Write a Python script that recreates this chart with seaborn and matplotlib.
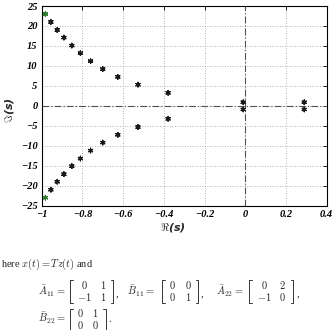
import numpy as np
import pandas as pd
import seaborn as sns
import matplotlib.pyplot as plt
from matplotlib.lines import Line2D

# Pole locations (upper half; the lower half mirrors it)
re_part = [-0.982, -0.955, -0.924, -0.891, -0.852, -0.81, -0.76, -0.70,
           -0.626, -0.527, -0.379, -0.01, 0.29]
im_part = [23.0, 21.0, 19.0, 17.1, 15.1, 13.2, 11.2, 9.2,
           7.25, 5.3, 3.25, 0.9, 0.9]
pole_group = ['first'] + ['rest'] * 12

x_ticks = [-1, -0.8, -0.6, -0.4, -0.2, 0, 0.2, 0.4]
x_ticklabels = ['\u22121', '\u22120.8', '\u22120.6', '\u22120.4', '\u22120.2', '0', '0.2', '0.4']
y_ticks = [-25, -20, -15, -10, -5, 0, 5, 10, 15, 20, 25]
y_ticklabels = [('\u2212' + str(-v)) if v < 0 else str(v) for v in y_ticks]

sns.set_theme(style='white')
plt.rcParams['mathtext.fontset'] = 'cm'
plt.rcParams['font.family'] = ['Liberation Serif', 'DejaVu Serif']

df = pd.DataFrame({
    're': re_part + re_part,
    'im': im_part + [-v for v in im_part],
    'group': pole_group + pole_group,
})

fig = plt.figure(figsize=(3.34, 3.30), dpi=100)
ax = fig.add_axes([0.1249, 0.3767, 0.853, 0.6051])

ax.axhline(0, color='#505050', lw=0.8, ls=(0, (6, 2, 1, 2)), zorder=1)
ax.axvline(0, color='#505050', lw=0.8, ls=(0, (6, 2, 1, 2)), zorder=1)

sns.scatterplot(data=df, x='re', y='im', hue='group',
                palette={'first': '#2f7a2f', 'rest': '#1a1a1a'},
                marker=(6, 2, 0), s=11, linewidth=0.9, legend=False,
                ax=ax, zorder=3)

ax.set_xlim(-1, 0.4)
ax.set_ylim(-25, 25)
ax.set_xticks(x_ticks)
ax.set_xticklabels(x_ticklabels)
ax.set_yticks(y_ticks)
ax.set_yticklabels(y_ticklabels)
for lab in ax.get_xticklabels() + ax.get_yticklabels():
    lab.set_fontstyle('italic')
    lab.set_fontweight('bold')
    lab.set_fontsize(7.5)
ax.tick_params(direction='in', length=3, width=0.6, top=True, right=True,
               pad=3, colors='black')
ax.grid(True, ls=(0, (1, 2)), color='#9a9a9a', lw=0.6)
for sp in ax.spines.values():
    sp.set_color('black')
    sp.set_linewidth(0.8)

ax.set_xlabel(r'$\Re$(s)', fontsize=8, fontweight='bold', style='italic',
              family='DejaVu Sans')
ax.set_ylabel(r'$\Im$(s)', fontsize=8, fontweight='bold', style='italic',
              family='DejaVu Sans')
ax.xaxis.set_label_coords(0.46, -0.075)
ax.yaxis.set_label_coords(-0.09, 0.48)

# text under the chart
W, H = 334.0, 330.0
fs = 7.5


def ftext(x, y, s, **kw):
    fig.text(x / W, 1 - y / H, s, fontsize=fs, va='center', **kw)


def bracket(x, y0, y1, side):
    d = 2.5 if side == 'left' else -2.5
    xs = [x + d, x, x, x + d]
    ys = [y0, y0, y1, y1]
    fig.add_artist(Line2D([v / W for v in xs], [1 - v / H for v in ys],
                          transform=fig.transFigure, color='#333333', lw=0.7))


def matrix(x0, x1, cols, rows, y_rows, y_top, y_bot):
    bracket(x0, y_top, y_bot, 'left')
    bracket(x1, y_top, y_bot, 'right')
    for r, yr in zip(rows, y_rows):
        for c, xc in zip(r, cols):
            ftext(xc, yr, c, ha='center')


ftext(1, 264, r'here $x(t) = Tz(t)$ and', ha='left')

ftext(66, 291, r'$\bar{A}_{11} =$', ha='right')
matrix(70, 113, [84, 103], [[r'$0$', r'$1$'], [r'$-1$', r'$1$']],
       [285, 297], 280, 303)
ftext(116, 294, ',', ha='left')

ftext(155, 291, r'$\bar{B}_{11} =$', ha='right')
matrix(162, 198, [172, 188], [[r'$0$', r'$0$'], [r'$0$', r'$1$']],
       [285, 297], 280, 303)
ftext(201, 294, ',', ha='left')

ftext(244, 291, r'$\bar{A}_{22} =$', ha='right')
matrix(249, 293, [264, 282], [[r'$0$', r'$2$'], [r'$-1$', r'$0$']],
       [285, 297], 280, 303)
ftext(297, 294, ',', ha='left')

ftext(66, 318, r'$\bar{B}_{22} =$', ha='right')
matrix(70, 106, [80, 95], [[r'$0$', r'$1$'], [r'$0$', r'$0$']],
       [313, 325], 309, 333)
ftext(108, 320, '.', ha='left')

fig.savefig('out.png', dpi=100, facecolor='white')
